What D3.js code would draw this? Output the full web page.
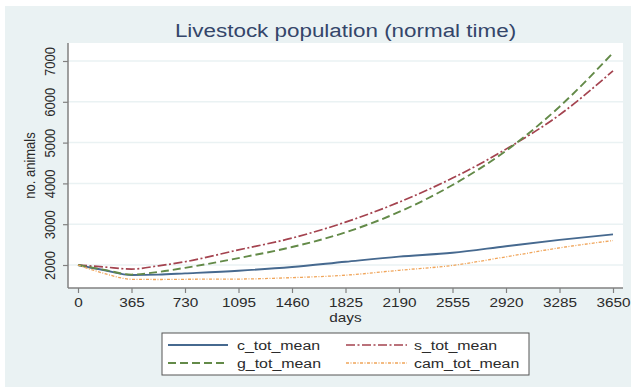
<!DOCTYPE html>
<html>
<head>
<meta charset="utf-8">
<script src="https://cdn.jsdelivr.net/npm/d3@7"></script>
<style>
  html, body { margin: 0; padding: 0; background: #ffffff; }
  svg { display: block; }
  text { font-family: "Liberation Sans", Arial, sans-serif; }
</style>
</head>
<body>
<svg id="chart" width="635" height="390"></svg>
<script>
// Simulation output: mean herd size per species over ten years
const days = [0, 182, 365, 548, 730, 1095, 1460, 1825, 2190, 2555, 2920, 3285, 3650];
const cTot   = [2000, 1870, 1755, 1765, 1795, 1860, 1950, 2080, 2205, 2300, 2460, 2615, 2750];
const sTot   = [2000, 1950, 1900, 1980, 2080, 2370, 2660, 3050, 3540, 4130, 4840, 5680, 6760];
const gTot   = [2000, 1880, 1765, 1830, 1930, 2170, 2440, 2800, 3300, 3960, 4800, 5880, 7200];
const camTot = [2000, 1790, 1650, 1645, 1650, 1655, 1690, 1750, 1870, 1990, 2200, 2420, 2600];

const seriesNames = ["c_tot_mean", "s_tot_mean", "g_tot_mean", "cam_tot_mean"];
const xTicks = [0, 365, 730, 1095, 1460, 1825, 2190, 2555, 2920, 3285, 3650];
const yTicks = [2000, 3000, 4000, 5000, 6000, 7000];

const title = "Livestock population (normal time)";
const xTitle = "days";
const yTitle = "no. animals";

// Text is drawn slightly wide, like the rest of the graph
const K = 1.18;

const series = [
  { name: seriesNames[0], values: cTot,   color: "#46698f", width: 1.9, dash: null },
  { name: seriesNames[1], values: sTot,   color: "#a4434f", width: 1.7, dash: "9,2.5,2,2.5" },
  { name: seriesNames[2], values: gTot,   color: "#638a48", width: 1.9, dash: "8,4" },
  { name: seriesNames[3], values: camTot, color: "#f0a55a", width: 1.3, dash: "3,1.5,1,1.5" }
];

const svg = d3.select("#chart");

// graph region background
svg.append("rect")
  .attr("x", 5).attr("y", 6).attr("width", 626).attr("height", 381)
  .attr("fill", "#eaf2f3");

const plot = { left: 68, right: 623, top: 43, bottom: 288 };

svg.append("rect")
  .attr("x", plot.left).attr("y", plot.top)
  .attr("width", plot.right - plot.left).attr("height", plot.bottom - plot.top)
  .attr("fill", "#ffffff");

const x = d3.scaleLinear().domain([0, 3650]).range([78, 613]);
const y = d3.scaleLinear().domain([2000, 7000]).range([265, 61]);

// horizontal grid lines
svg.append("g")
  .selectAll("line")
  .data(yTicks)
  .join("line")
  .attr("x1", plot.left).attr("x2", plot.right)
  .attr("y1", d => y(d)).attr("y2", d => y(d))
  .attr("stroke", "#eaf2f3").attr("stroke-width", 1.5);

// series lines
const line = d3.line()
  .x((d, i) => x(days[i]))
  .y(d => y(d))
  .curve(d3.curveMonotoneX);

series.forEach(s => {
  svg.append("path")
    .datum(s.values)
    .attr("d", line)
    .attr("fill", "none")
    .attr("stroke", s.color)
    .attr("stroke-width", s.width)
    .attr("stroke-dasharray", s.dash);
});

const axisColor = "#808080";
const labelColor = "#2b2b2b";

// y axis
const yAxis = svg.append("g")
  .attr("transform", `translate(${plot.left},0)`)
  .call(d3.axisLeft(y).tickValues(yTicks).tickSize(5).tickSizeOuter(0).tickFormat(d3.format("d")));
yAxis.select(".domain").remove();
yAxis.append("line")
  .attr("x1", 0).attr("x2", 0).attr("y1", plot.top).attr("y2", plot.bottom)
  .attr("stroke", axisColor).attr("stroke-width", 1.5);
yAxis.selectAll(".tick line").attr("stroke", axisColor).attr("stroke-width", 1.2);
yAxis.selectAll(".tick text")
  .attr("x", null).attr("dy", null)
  .attr("y", -13.5 / K)
  .attr("transform", `scale(${K},1) rotate(-90)`)
  .attr("text-anchor", "middle")
  .attr("fill", labelColor)
  .style("font-size", "13px");

// x axis
const xAxis = svg.append("g")
  .attr("transform", `translate(0,${plot.bottom})`)
  .call(d3.axisBottom(x).tickValues(xTicks).tickSize(5).tickSizeOuter(0).tickFormat(d3.format("d")));
xAxis.select(".domain").remove();
xAxis.append("line")
  .attr("x1", plot.left).attr("x2", plot.right).attr("y1", 0).attr("y2", 0)
  .attr("stroke", axisColor).attr("stroke-width", 1.5);
xAxis.selectAll(".tick line").attr("stroke", axisColor).attr("stroke-width", 1.2);
xAxis.selectAll(".tick text")
  .attr("dy", null)
  .attr("y", 19)
  .attr("transform", `scale(${K},1)`)
  .attr("fill", labelColor)
  .style("font-size", "13px");

// axis titles
svg.append("text")
  .attr("transform", `translate(${(plot.left + plot.right) / 2},322) scale(${K},1)`)
  .attr("text-anchor", "middle")
  .attr("fill", labelColor)
  .style("font-size", "13px")
  .text(xTitle);

svg.append("text")
  .attr("transform", `translate(35,${(plot.top + plot.bottom) / 2}) scale(${K},1) rotate(-90)`)
  .attr("text-anchor", "middle")
  .attr("fill", labelColor)
  .style("font-size", "13px")
  .text(yTitle);

// title
svg.append("text")
  .attr("transform", `translate(${(plot.left + plot.right) / 2},37) scale(${K},1)`)
  .attr("text-anchor", "middle")
  .attr("fill", "#34466a")
  .style("font-size", "19px")
  .text(title);

// legend
const legend = svg.append("g");
legend.append("rect")
  .attr("x", 162).attr("y", 333).attr("width", 367).attr("height", 42)
  .attr("fill", "#ffffff").attr("stroke", "#555555").attr("stroke-width", 1);

const cols = [{ x0: 168, x1: 228, tx: 237 }, { x0: 346, x1: 407, tx: 414 }];
const rows = [345, 363];

series.forEach((s, i) => {
  const c = cols[i % 2], r = rows[Math.floor(i / 2)];
  legend.append("line")
    .attr("x1", c.x0).attr("x2", c.x1).attr("y1", r).attr("y2", r)
    .attr("stroke", s.color).attr("stroke-width", s.width)
    .attr("stroke-dasharray", s.dash);
  legend.append("text")
    .attr("transform", `translate(${c.tx},${r + 5}) scale(${K},1)`)
    .attr("fill", labelColor)
    .style("font-size", "13.5px")
    .text(s.name);
});
</script>
</body>
</html>
